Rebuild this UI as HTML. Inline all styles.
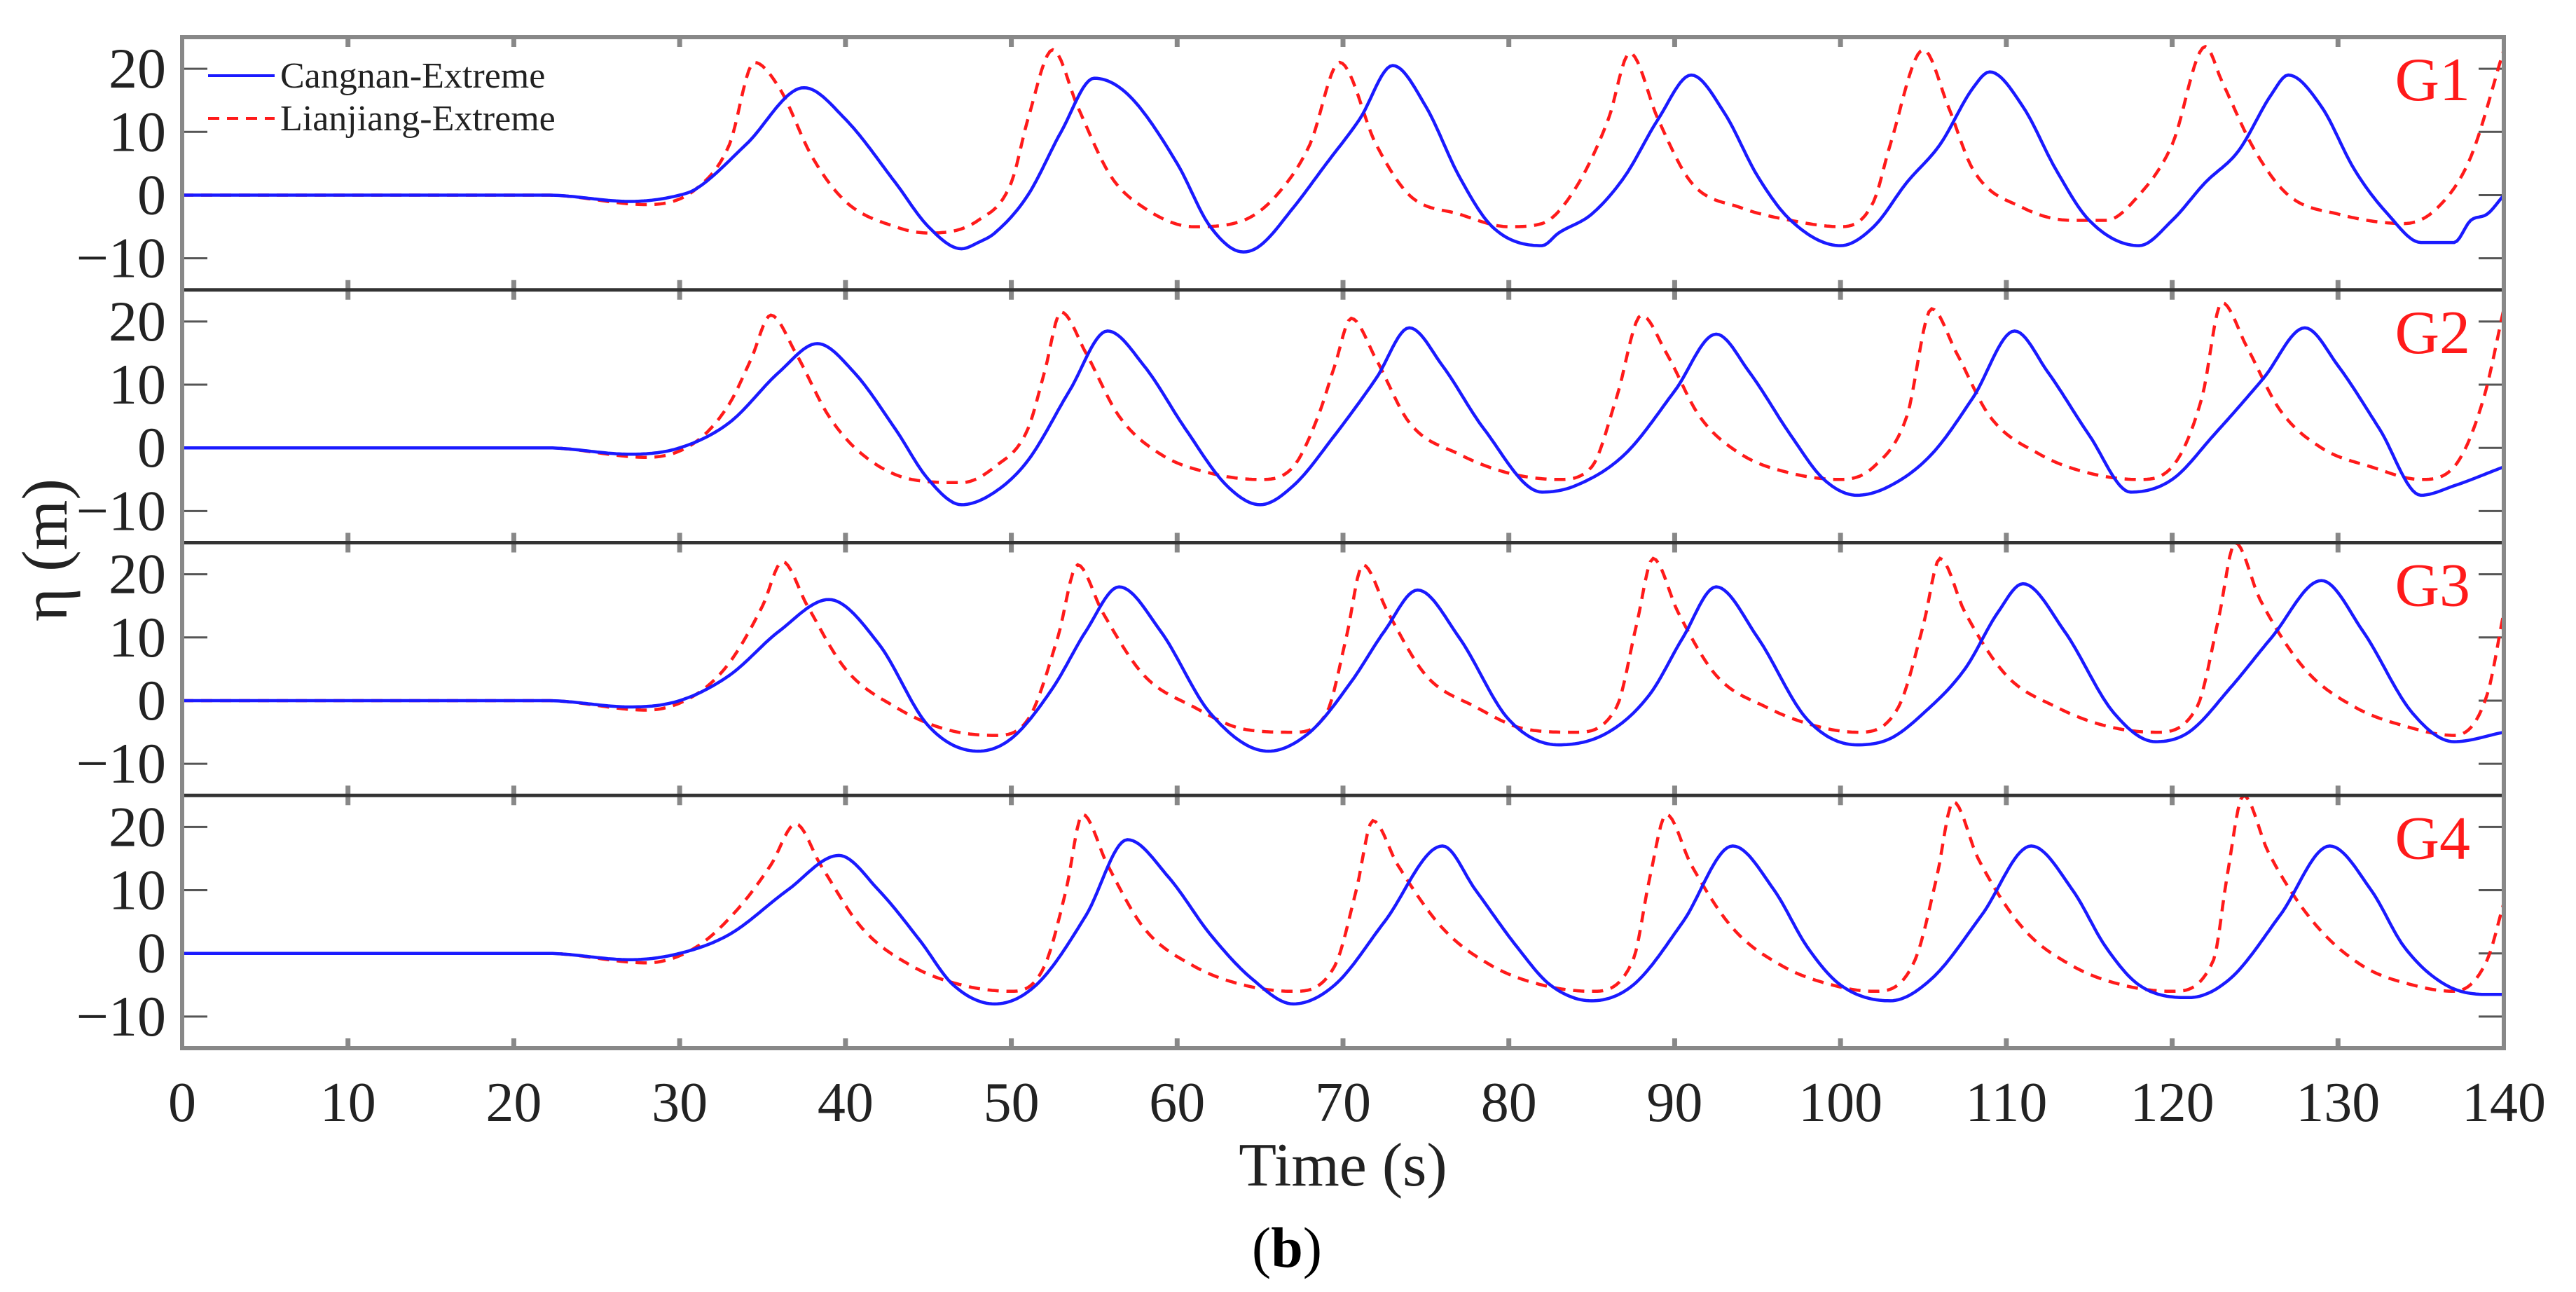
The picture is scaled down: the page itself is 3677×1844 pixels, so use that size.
<!DOCTYPE html>
<html><head><meta charset="utf-8"><style>
html,body{margin:0;padding:0;background:#fff;}
svg{display:block;font-family:"Liberation Serif",serif;}
</style></head><body>
<svg id="chart" width="3677" height="1844" viewBox="0 0 3677 1844" xmlns="http://www.w3.org/2000/svg"></svg>
<script>
// ---- data ----
const panelNames = ["G1","G2","G3","G4"];
const xTicks = [0,10,20,30,40,50,60,70,80,90,100,110,120,130,140];
const yTicks = [20,10,0,-10];

const g1BlueT = [0,22,27,30,31,34,37.5,40,43,45,47,48,49,51,53,55,57,60,62,64,65,67,69,71,73,75,77,79,82,83,85,87,89,91,93,95,97,100,102,104,106,108,109,111,113,115,118,120,122,124,126,127,129,131,133,135,137,138,139,140];
const g1BlueV = [0,0,-1,0,1,8,17,12,2,-5,-8.5,-7.5,-6,0,10,18.5,16,5,-5,-9,-8,-2,5,12,20.5,14,3,-5,-8,-6,-3,3,12,19,13,3,-4,-8,-5,2,8,17,19.5,14,4,-4,-8,-4,2,7,16,19,14,4,-3,-7.5,-7.5,-4,-3,0];
const g1RedT = [0,22,28,31,33,34.5,36,38,40,43,45,48,50,51,52.5,54,56,58,61,64,66,68,69.8,72,74,77,80,82,84,86,87.3,89,91,94,97,100,102,103,105,106.5,108,111,114,116,118,120,122,123,125,127,130,134,136,138,140];
const g1RedV = [0,0,-1.5,1,8,21,17,6,-1,-5,-6,-4,2,12,23,14,3,-2,-5,-4,0,8,21,8,0,-3,-5,-4.5,1,12,22.5,12,2,-2,-4,-5,-1,8,23,14,4,-2,-4,-4,0,8,23.5,18,7,0,-3,-4.5,-2,6,23];

const g2BlueT = [0,22,27,30,33,36,38.3,40.5,43,45,47,49,51,53.5,55.8,58,60.5,63,65,67,69.5,72,74,76,78.5,82,84,87,90,92.5,94.5,97,99,101,103,105.5,108,110.5,112.5,115,117.5,120,122.5,125.5,128,130,132.5,135,137,140];
const g2BlueV = [0,0,-1,0,4,12,16.5,12,3,-5,-9,-7,-2,9,18.5,13,3,-6,-9,-6,2,11,19,13,3,-7,-6,-1,9,18,12,2,-5,-7.5,-6,-1,8,18.5,12,2,-7,-5,2,11,19,13,3,-7.5,-6,-3];
const g2RedT = [0,22,28,31,33,34.3,35.5,37,39,41,44,47,49,51,52,53,54.5,56.5,59,62,65,67,68.5,69.5,70.5,72,74,77,80,83,85,86.5,88,89.5,91.5,94,97,100,102,104,105.5,107,109,112,115,118,120,121.8,123,124.5,126.5,129,132,135,137,138.8,140];
const g2RedV = [0,0,-1.5,1,7,14,21,15,5,-1,-5,-5.5,-3,3,12,21.5,15,5,-1,-4,-5,-3,5,13,20.5,14,4,-1,-4,-5,-3,8,21,15,5,-1,-4,-5,-3,5,22,15,5,-1,-4,-5,-3,8,23,16,6,0,-3,-5,-3,8,22];

const g3BlueT = [0,22,27,30,33,36,39,42,45,48,50,52.5,54.5,56.5,59,62,65.5,68,70.5,72.5,74.5,77,80,83,86,88.5,90.5,92.5,95,98,101,103,105,107.5,109.5,111,113.5,116.5,119,121,123.5,126,129,131.5,134.5,137,140];
const g3BlueV = [0,0,-1,0,4,11,16,9,-4,-8,-6,2,11,18,11,-2,-8,-5,3,11,17.5,10,-3,-7,-5,1,10,18,10,-3,-7,-6,-2,5,14,18.5,11,-2,-6.5,-5,2,10,19,11,-2,-6.5,-5];
const g3RedT = [0,22,28,31,33,35,36.2,37.7,40,43,46,49,51,52.8,54,55.5,58,61,64,67,69,70.2,71.2,72.7,75,78,81,84,86.5,87.7,88.7,90.2,92.5,95.5,98.5,101,103.5,105,106,107.5,110,113,116,119,121.5,122.8,123.8,125.3,128,131,134,137,139,140];
const g3RedV = [0,0,-1.5,1,6,15,22,15,5,-1,-4.5,-5.5,-3,10,21.5,14,4,-1,-4.5,-5,-2,10,21.5,14,4,-1,-4.5,-5,-1,12,22.5,14,4,-1,-4,-5,-1,12,22.5,14,4,-1,-4,-5,-1,13,25,16,5,-1,-4,-5.5,1,14];

const g4BlueT = [0,22,27,30,33,36.5,39.6,42,44.5,46.5,49,51.5,54.5,57,59.5,62,64.5,67,69.5,72.5,76,78,80.5,82.5,85,87.5,90.5,93.5,96,98,100,103,105.5,108.5,111.5,114,116,118,121,123.5,126.5,129.5,132,134,136.5,139,140];
const g4BlueV = [0,0,-1,0,3,10,15.5,10,2,-5,-8,-5,6,18,12,3,-4,-8,-5,5,17,10,1,-5,-7.5,-5,5,17,10,1,-5,-7.5,-4,6,17,10,1,-5,-7,-4,6,17,10,1,-5,-6.5,-6.5];
const g4RedT = [0,22,28,31,33.5,35.5,37,38.5,41,44,47,50,52,53.3,54.3,55.8,58,61,64,67,69.5,70.8,71.8,73.3,76,79,82,85,87.5,88.5,89.5,91,93.5,96.5,99.5,102,104.5,105.8,106.8,108.3,111,114,117,120,122.5,123.3,124.3,125.8,128.5,131.5,134.5,137,139,140];
const g4RedV = [0,0,-1.5,1,7,14,20.5,14,4,-2,-5,-6,-2,10,22,14,4,-2,-5,-6,-2,10,21,14,4,-2,-5,-6,-1,12,22,14,4,-2,-5,-6,-1,12,24,15,4,-2,-5,-6,-1,12,25,16,5,-2,-5,-6,-1,8];

const blueT = [g1BlueT,g2BlueT,g3BlueT,g4BlueT];
const blueV = [g1BlueV,g2BlueV,g3BlueV,g4BlueV];
const redT = [g1RedT,g2RedT,g3RedT,g4RedT];
const redV = [g1RedV,g2RedV,g3RedV,g4RedV];

// ---- layout ----
const NS="http://www.w3.org/2000/svg";
const svg=document.getElementById('chart');
const L=260,R=3574,TOP=53,BOT=1496;
const PH=(BOT-TOP)/4;
const YMIN=-15,YMAX=25;
function xs(t){return L+(t-0)/(140-0)*(R-L);}
function ys(v,p){const top=TOP+p*PH;return top+(YMAX-v)/(YMAX-YMIN)*PH;}
function mk(tag,attrs,parent){const e=document.createElementNS(NS,tag);for(const k in attrs)e.setAttribute(k,attrs[k]);(parent||svg).appendChild(e);return e;}

function smoothPath(T,V,p){
  const n=Math.min(T.length,V.length);
  const d=[],m=[];
  for(let i=0;i<n-1;i++)d.push((V[i+1]-V[i])/(T[i+1]-T[i]));
  m[0]=d[0];m[n-1]=d[n-2];
  for(let i=1;i<n-1;i++){m[i]=(d[i-1]*d[i]<=0)?0:(d[i-1]+d[i])/2;}
  for(let i=0;i<n-1;i++){if(d[i]===0){m[i]=0;m[i+1]=0;continue;}
    const a=m[i]/d[i],b=m[i+1]/d[i],s=a*a+b*b;if(s>9){const tt=3/Math.sqrt(s);m[i]=tt*a*d[i];m[i+1]=tt*b*d[i];}}
  let s='';
  for(let i=0;i<n-1;i++){
    const h=T[i+1]-T[i];const steps=Math.max(4,Math.ceil(h*6));
    for(let k=(i===0?0:1);k<=steps;k++){
      const u=k/steps,u2=u*u,u3=u2*u;
      const v=(2*u3-3*u2+1)*V[i]+(u3-2*u2+u)*h*m[i]+(-2*u3+3*u2)*V[i+1]+(u3-u2)*h*m[i+1];
      const t=T[i]+u*h;
      s+=(s?'L':'M')+xs(t).toFixed(1)+','+ys(v,p).toFixed(1);
    }
  }
  return s;
}

const defs=mk('defs',{});
for(let p=0;p<4;p++){
  const cp=mk('clipPath',{id:'clip'+p},defs);
  mk('rect',{x:L,y:TOP+p*PH,width:R-L,height:PH},cp);
}

for(let p=0;p<4;p++){
  const g=mk('g',{});
  
  
  const top=TOP+p*PH,bot=top+PH;
  yTicks.forEach(v=>{
    const y=ys(v,p);
    const tl=mk('line',{x1:L,x2:L+36,y1:y,y2:y,stroke:'#555','stroke-width':3},g);
    
    
    const tr=mk('line',{x1:R-36,x2:R,y1:y,y2:y,stroke:'#555','stroke-width':3},g);
    
    
    const tx=mk('text',{x:237,y:y+27,'text-anchor':'end','font-size':82,fill:'#222'},g);
    tx.textContent=v<0?'\u2212'+Math.abs(v):String(v);
    
    
  });
  xTicks.forEach(t=>{
    if(t===0||t===140)return;
    const x=xs(t);
    const a=mk('line',{x1:x,x2:x,y1:top,y2:top+14,stroke:'#888','stroke-width':7},g);
    
    
    const b=mk('line',{x1:x,x2:x,y1:bot-14,y2:bot,stroke:'#888','stroke-width':7},g);
    
    
  });
  const red=mk('path',{d:smoothPath(redT[p],redV[p],p),fill:'none',stroke:'#ff1a1a','stroke-width':4.5,'stroke-dasharray':'16 11','clip-path':'url(#clip'+p+')'},g);
  
  
  const blue=mk('path',{d:smoothPath(blueT[p],blueV[p],p),fill:'none',stroke:'#1a1aff','stroke-width':4.5,'clip-path':'url(#clip'+p+')'},g);
  
  
  const lab=mk('text',{x:3526,y:top+90,'text-anchor':'end','font-size':88,fill:'#ff1a1a'},g);
  lab.textContent=panelNames[p];
  
  
  if(p>0){
    const sep=mk('line',{x1:L,x2:R,y1:top,y2:top,stroke:'#333','stroke-width':5},g);
    
    
  }
}
const frame=mk('rect',{x:L,y:TOP,width:R-L,height:BOT-TOP,fill:'none',stroke:'#888','stroke-width':6});



xTicks.forEach(t=>{
  const tx=mk('text',{x:xs(t),y:1600,'text-anchor':'middle','font-size':80,fill:'#222'});
  tx.textContent=String(t);
  
  
});
</script>
<svg style="position:absolute;left:0;top:0" width="3677" height="1844">
  <text x="1917" y="1692" text-anchor="middle" font-family="Liberation Serif,serif" font-size="88" fill="#222">Time (s)</text>
  <text x="1837" y="1808" text-anchor="middle" font-family="Liberation Serif,serif" font-size="82" fill="#000">(<tspan font-weight="bold">b</tspan>)</text>
  <text transform="translate(95,785) rotate(-90)" text-anchor="middle" font-family="Liberation Serif,serif" font-size="92" fill="#222">η (m)</text>
  <g>
    <line x1="297" x2="392" y1="108" y2="108" stroke="#1a1aff" stroke-width="4"/>
    <text x="400" y="125" font-family="Liberation Serif,serif" font-size="52" fill="#222">Cangnan-Extreme</text>
    <line x1="297" x2="392" y1="169" y2="169" stroke="#ff1a1a" stroke-width="4" stroke-dasharray="16 11"/>
    <text x="400" y="186" font-family="Liberation Serif,serif" font-size="52" fill="#222">Lianjiang-Extreme</text>
  </g>
</svg>
<style>body{position:relative;width:3677px;height:1844px;overflow:hidden}</style>
</body></html>
